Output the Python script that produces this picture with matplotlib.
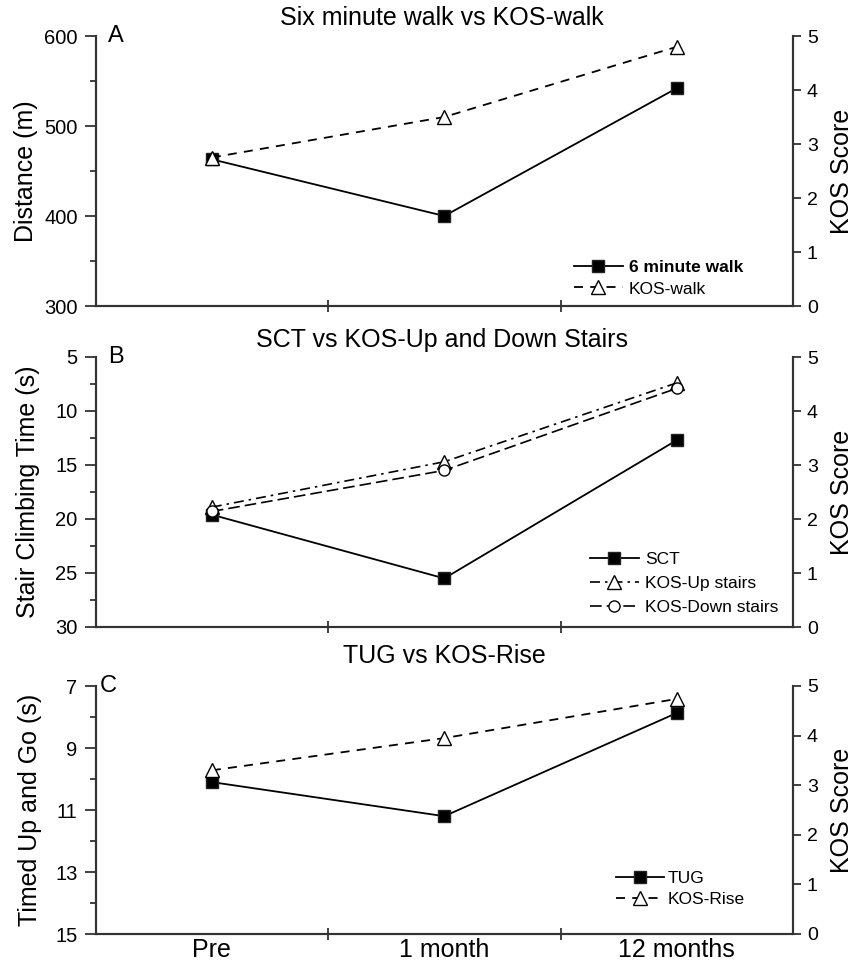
import matplotlib
matplotlib.use("Agg")
import matplotlib.pyplot as plt
from matplotlib.ticker import MultipleLocator, FixedLocator

plt.rcParams['font.family'] = ['Liberation Sans', 'DejaVu Sans']

timepoints = ["Pre", "1 month", "12 months"]

# Panel A
walk6 = [463, 400, 542]
kos_walk = [2.75, 3.5, 4.8]
# Panel B
sct = [19.6, 25.5, 12.7]
kos_up = [2.22, 3.06, 4.52]
kos_down = [2.14, 2.9, 4.42]
# Panel C
tug = [10.1, 11.2, 7.87]
kos_rise = [3.3, 3.95, 4.74]

# Left-axis tick values
ticksA = [300, 400, 500, 600]
minorA = [350, 450, 550]
ticksB = [5, 10, 15, 20, 25, 30]
minorB = [7.5, 12.5, 17.5, 22.5, 27.5]
ticksC = [7, 9, 11, 13, 15]
minorC = [8, 10, 12, 14]
kos_ticks = [0, 1, 2, 3, 4, 5]

W, H = 856, 965
fig = plt.figure(figsize=(W / 100, H / 100), dpi=100)

def frac_box(top_px, bot_px):
    left, right = 95.6, 793
    return [left / W, 1 - bot_px / H, (right - left) / W, (bot_px - top_px) / H]

x = [1, 2, 3]
SPC = '#333333'

def style(ax, ax2, ylim, major, minor, show_x):
    ax.set_xlim(0.5, 3.5)
    ax.set_ylim(*ylim)
    ax2.set_ylim(0, 5)
    for a in (ax, ax2):
        a.spines['top'].set_visible(False)
        for s in ('left', 'right', 'bottom'):
            a.spines[s].set_linewidth(1.5)
            a.spines[s].set_color(SPC)
    ax.yaxis.set_major_locator(FixedLocator(major))
    ax.yaxis.set_minor_locator(FixedLocator(minor))
    ax.tick_params(axis='y', which='major', length=8, width=1.3, color=SPC, labelsize=14.5, pad=5)
    ax.tick_params(axis='y', which='minor', length=4.5, width=1.3, color=SPC)
    ax2.yaxis.set_major_locator(FixedLocator(kos_ticks))
    ax2.tick_params(axis='y', which='major', length=6, width=1.3, color=SPC, labelsize=14, pad=4)
    ax.xaxis.set_major_locator(FixedLocator(x))
    ax.xaxis.set_minor_locator(FixedLocator([1.5, 2.5]))
    ax.tick_params(axis='x', which='major', length=0, pad=3, labelsize=18)
    ax.tick_params(axis='x', which='minor', length=9, width=1.3, direction='inout', color=SPC)
    if show_x:
        ax.set_xticklabels(timepoints)
    else:
        ax.set_xticklabels([])

# ---------- Panel A ----------
axA = fig.add_axes(frac_box(36, 306))
axA2 = axA.twinx()
lA1, = axA.plot(x, walk6, color='black', lw=1.3, marker='s', ms=8, mfc='black', mec='#222222',
                label='6 minute walk', zorder=3)
lA2, = axA2.plot(x, kos_walk, color='black', lw=1.3, ls=(0, (5, 4)), marker='^', ms=10,
                 mfc='white', mec='black', mew=1.0, label='KOS-walk')
style(axA, axA2, (300, 600), ticksA, minorA, False)
axA.set_ylabel('Distance (m)', fontsize=18)
axA.yaxis.set_label_coords(-0.083, 0.5)
axA2.set_ylabel('KOS Score', fontsize=18)
axA2.yaxis.set_label_coords(1.053, 0.5)
axA.text(0.018, 1.0, 'A', transform=axA.transAxes, fontsize=17, va='center', ha='left')
legA = axA2.legend([lA1, lA2], ['6 minute walk', 'KOS-walk'], loc='lower left',
                   bbox_to_anchor=(0.686, 0.035), frameon=False, fontsize=12.5,
                   handlelength=2.8, handletextpad=0.35, labelspacing=0.35,
                   borderpad=0, borderaxespad=0)
legA.get_texts()[0].set_fontweight('bold')
fig.text(0.516, 1 - 18 / H, 'Six minute walk vs KOS-walk', ha='center', va='center', fontsize=18)

# ---------- Panel B ----------
axB = fig.add_axes(frac_box(357, 627))
axB2 = axB.twinx()
lB1, = axB.plot(x, sct, color='black', lw=1.3, marker='s', ms=8, mfc='black', mec='#222222',
                label='SCT', zorder=3)
lB2, = axB2.plot(x, kos_up, color='black', lw=1.2, ls=(0, (6, 3, 1.5, 3)), marker='^', ms=10,
                 mfc='white', mec='black', mew=1.0, label='KOS-Up stairs')
lB3, = axB2.plot(x, kos_down, color='black', lw=1.2, ls=(0, (7, 3)), marker='o', ms=8,
                 mfc='white', mec='black', mew=1.0, label='KOS-Down stairs')
style(axB, axB2, (30, 5), ticksB, minorB, False)
axB.set_ylabel('Stair Climbing Time (s)', fontsize=18)
axB.yaxis.set_label_coords(-0.08, 0.5)
axB2.set_ylabel('KOS Score', fontsize=18)
axB2.yaxis.set_label_coords(1.053, 0.5)
axB.text(0.018, 1.0, 'B', transform=axB.transAxes, fontsize=17, va='center', ha='left')
axB2.legend([lB1, lB2, lB3], ['SCT', 'KOS-Up stairs', 'KOS-Down stairs'], loc='lower left',
            bbox_to_anchor=(0.709, 0.045), frameon=False, fontsize=12.5,
            handlelength=2.8, handletextpad=0.35, labelspacing=0.5,
            borderpad=0, borderaxespad=0)
fig.text(0.516, 1 - 340 / H, 'SCT vs KOS-Up and Down Stairs', ha='center', va='center', fontsize=18)

# ---------- Panel C ----------
axC = fig.add_axes(frac_box(686, 934))
axC2 = axC.twinx()
lC1, = axC.plot(x, tug, color='black', lw=1.3, marker='s', ms=8, mfc='black', mec='#222222',
                label='TUG', zorder=3)
lC2, = axC2.plot(x, kos_rise, color='black', lw=1.3, ls=(0, (5, 4)), marker='^', ms=10,
                 mfc='white', mec='black', mew=1.0, label='KOS-Rise')
style(axC, axC2, (15, 7), ticksC, minorC, True)
axC.set_ylabel('Timed Up and Go (s)', fontsize=18)
axC.yaxis.set_label_coords(-0.077, 0.5)
axC2.set_ylabel('KOS Score', fontsize=18)
axC2.yaxis.set_label_coords(1.053, 0.5)
axC.text(0.006, 1.0, 'C', transform=axC.transAxes, fontsize=17, va='center', ha='left')
axC2.legend([lC1, lC2], ['TUG', 'KOS-Rise'], loc='lower left',
            bbox_to_anchor=(0.746, 0.11), frameon=False, fontsize=12.5,
            handlelength=2.8, handletextpad=0.2, labelspacing=0.3,
            borderpad=0, borderaxespad=0)
fig.text(0.519, 1 - 656 / H, 'TUG vs KOS-Rise', ha='center', va='center', fontsize=18)

fig.savefig('out.png', dpi=100)
